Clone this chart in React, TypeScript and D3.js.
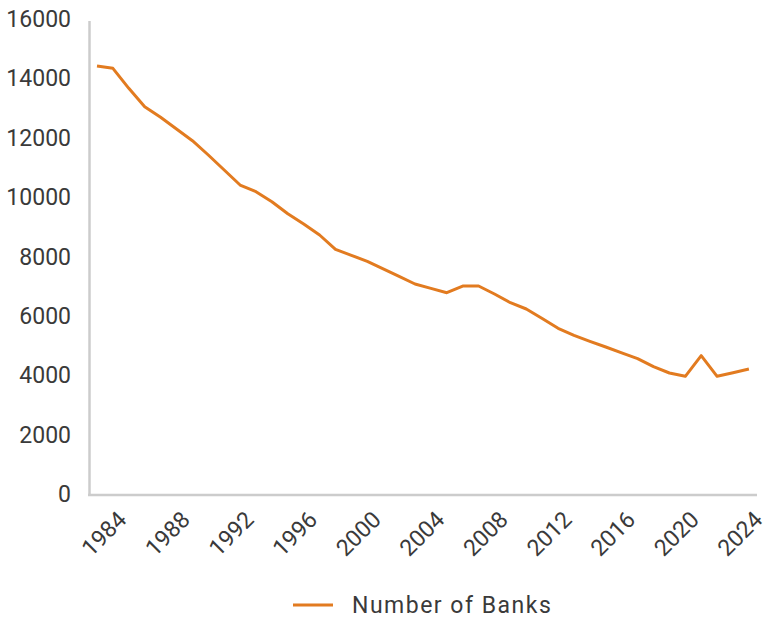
import React from "react";
import * as d3 from "d3";

const years: number[] = d3.range(1983, 2025);
const banks: number[] = [
  14417, 14339, 13665, 13046, 12690, 12295, 11901, 11419, 10914, 10408,
  10183, 9846, 9440, 9095, 8724, 8243, 8040, 7838, 7585, 7333,
  7074, 6928, 6781, 7006, 7006, 6737, 6444, 6232, 5911, 5581,
  5345, 5143, 4952, 4752, 4558, 4288, 4076, 3964, 4659, 3964,
  4086, 4211,
];
const yTicks: number[] = [0, 2000, 4000, 6000, 8000, 10000, 12000, 14000, 16000];
const xLabelYears: number[] = [1984, 1988, 1992, 1996, 2000, 2004, 2008, 2012, 2016, 2020, 2024];
const seriesName = "Number of Banks";

const W = 780;
const H = 623;
const ORANGE = "#E27B20";
const TEXT = "#3a3a3a";
const AXIS = "#cccccc";
const FONT = "Roboto, 'Noto Sans', sans-serif";

export default function App() {
  const x = d3.scalePoint<number>().domain(years).range([97, 748.9]);
  const y = d3.scaleLinear().domain([0, 16000]).range([494, 19]);
  const line = d3
    .line<number>()
    .x((_, i) => x(years[i]) as number)
    .y((d) => y(d));

  return (
    <svg
      width={W}
      height={H}
      style={{ position: "absolute", left: 0, top: 0, background: "#fff" }}
      fontFamily={FONT}
    >
      <line x1={89.5} x2={89.5} y1={21} y2={495} stroke={AXIS} strokeWidth={2.5} />
      <line x1={88} x2={757} y1={495} y2={495} stroke={AXIS} strokeWidth={2.5} />
      {yTicks.map((t) => (
        <text
          key={t}
          x={71}
          y={y(t)}
          dy="0.35em"
          textAnchor="end"
          fontSize={23}
          fill={TEXT}
        >
          {t}
        </text>
      ))}
      {xLabelYears.map((yr) => {
        const px = (x(yr) as number) + 15;
        return (
          <text
            key={yr}
            transform={`translate(${px},${521}) rotate(-45)`}
            textAnchor="end"
            fontSize={23}
            fill={TEXT}
          >
            {yr}
          </text>
        );
      })}
      <path
        d={line(banks) ?? ""}
        fill="none"
        stroke={ORANGE}
        strokeWidth={3}
        strokeLinejoin="round"
      />
      <line x1={293} x2={333} y1={605} y2={605} stroke={ORANGE} strokeWidth={3} />
      <text x={352} y={605} dy="0.35em" fontSize={23} fill={TEXT} letterSpacing={1.5}>
        {seriesName}
      </text>
    </svg>
  );
}
